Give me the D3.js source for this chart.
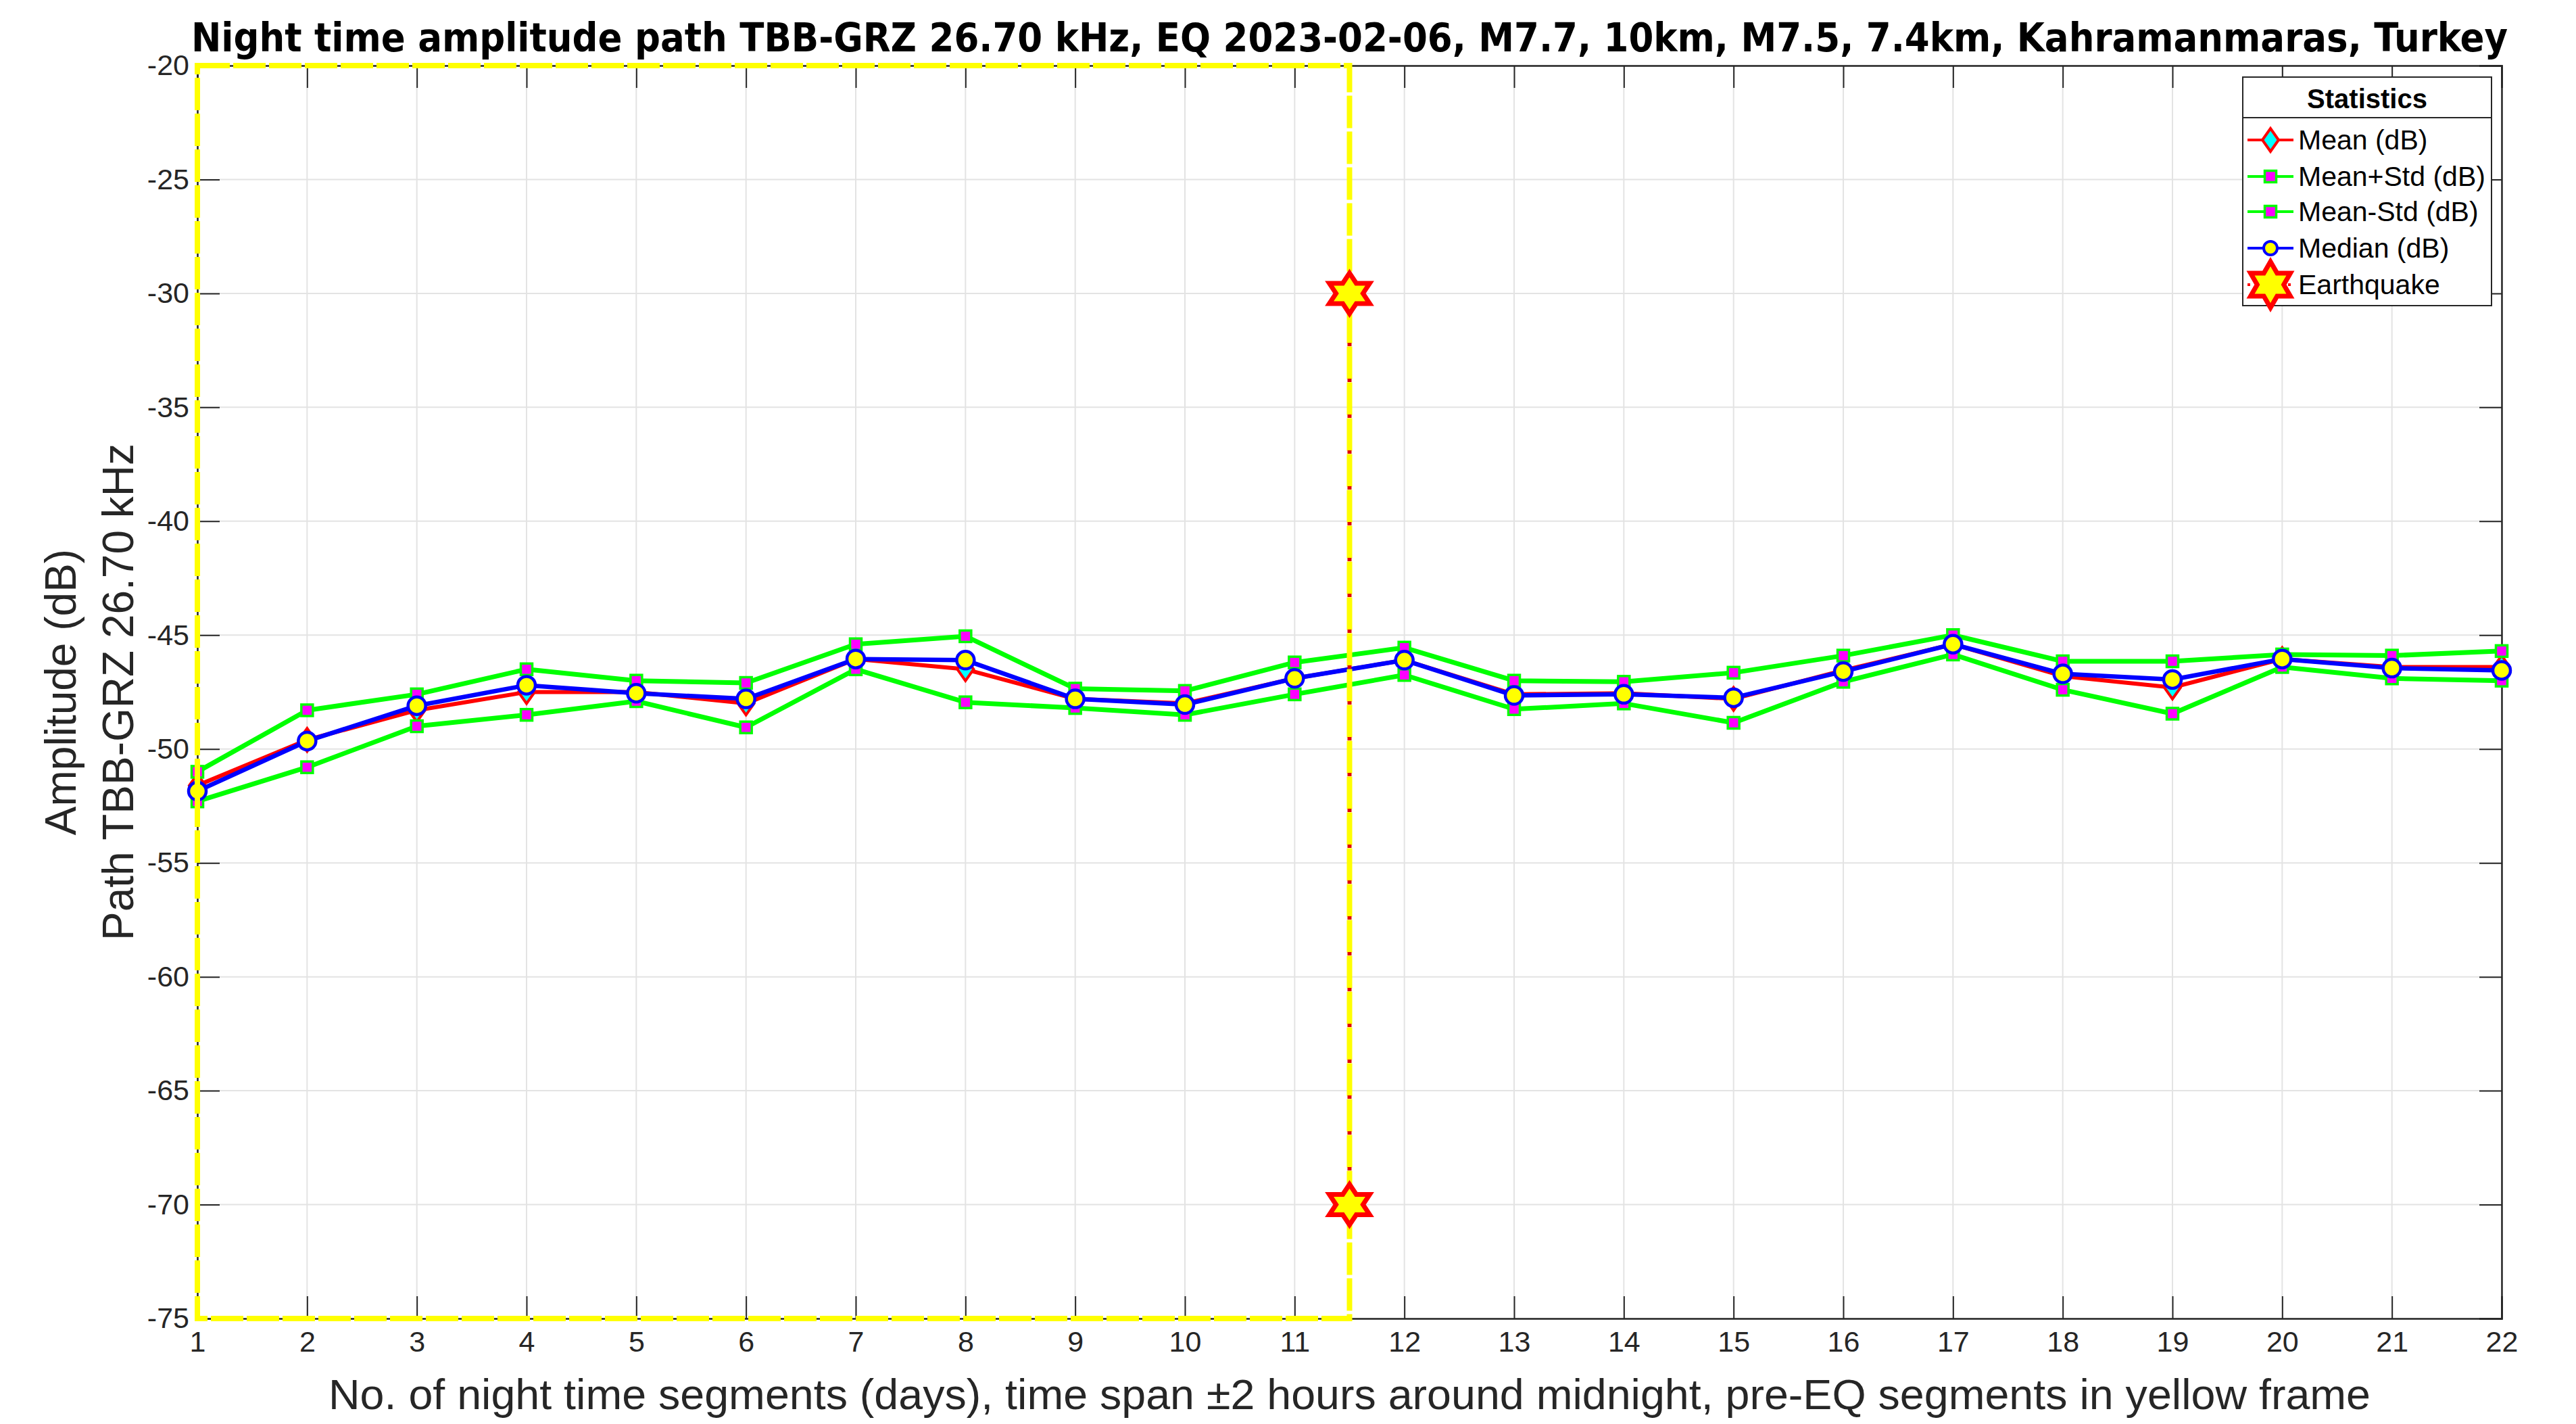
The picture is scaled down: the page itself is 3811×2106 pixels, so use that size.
<!DOCTYPE html>
<html>
<head>
<meta charset="utf-8">
<script src="https://cdn.jsdelivr.net/npm/d3@7/dist/d3.min.js"></script>
<style>
  body { margin: 0; background: #fff; }
  svg { display: block; font-family: "Liberation Sans", Arial, sans-serif; }
</style>
</head>
<body>
<svg width="3811" height="2106"></svg>
<script>
// Night time amplitude statistics, TBB-GRZ path

var days = [1, 2, 3, 4, 5, 6, 7, 8, 9, 10, 11, 12, 13, 14, 15, 16, 17, 18, 19, 20, 21, 22]
var meanVals   = [-51.6, -49.6, -48.3, -47.5, -47.5, -48.0, -46.05, -46.5, -47.8, -48.0, -46.9, -46.1, -47.6, -47.55, -47.8, -46.55, -45.4, -46.8, -47.3, -46.05, -46.4, -46.4]
var plusStd    = [-51.0, -48.3, -47.6, -46.5, -47.0, -47.1, -45.4, -45.05, -47.35, -47.45, -46.2, -45.55, -47.0, -47.05, -46.65, -45.9, -45.0, -46.15, -46.15, -45.85, -45.9, -45.7]
var minusStd   = [-52.3, -50.8, -49.0, -48.5, -47.9, -49.05, -46.5, -47.95, -48.2, -48.5, -47.6, -46.75, -48.25, -48.0, -48.85, -47.05, -45.85, -47.4, -48.45, -46.4, -46.9, -47.0]
var medianVals = [-51.85, -49.65, -48.1, -47.2, -47.55, -47.8, -46.05, -46.1, -47.8, -48.05, -46.9, -46.1, -47.65, -47.6, -47.75, -46.6, -45.4, -46.7, -46.95, -46.05, -46.45, -46.55]

var yTicks = [-75, -70, -65, -60, -55, -50, -45, -40, -35, -30, -25, -20]
var eqDay = 11.5
var eqAmp = [-30, -70]
var frameDays = [1, 11.5]

var titleText = 'Night time amplitude path TBB-GRZ 26.70 kHz, EQ 2023-02-06, M7.7, 10km, M7.5, 7.4km, Kahramanmaras, Turkey'
var xLabel = 'No. of night time segments (days), time span \u00b12 hours around midnight, pre-EQ segments in yellow frame'
var yLabel = ['Amplitude (dB)', 'Path TBB-GRZ 26.70 kHz']

var pLeft = 292, pRight = 3701, pTop = 97, pBottom = 1950
var axisColor = '#262626'

var svg = d3.select('svg')
svg.append('rect').attr('width', 3811).attr('height', 2106).attr('fill', '#fff')

var x = d3.scaleLinear().domain([1, 22]).range([pLeft, pRight])
var y = d3.scaleLinear().domain([-75, -20]).range([pBottom, pTop])
var fmt = function(d) { return String(d) }

// grid
var grid = svg.append('g').attr('class', 'grid')
grid.selectAll('.gx').data(days).enter().append('line')
	.attr('x1', function(d) { return x(d) }).attr('x2', function(d) { return x(d) })
	.attr('y1', pTop).attr('y2', pBottom)
	.attr('stroke', '#e3e3e3').attr('stroke-width', 2)
grid.selectAll('.gy').data(yTicks).enter().append('line')
	.attr('y1', function(d) { return y(d) }).attr('y2', function(d) { return y(d) })
	.attr('x1', pLeft).attr('x2', pRight)
	.attr('stroke', '#e3e3e3').attr('stroke-width', 2)

// axes, ticks pointing inward
var tick = 33
var xAxis = svg.append('g').attr('transform', 'translate(0,' + pBottom + ')')
	.call(d3.axisBottom(x).tickValues(days).tickFormat(fmt).tickSize(-tick).tickPadding(12))
var yAxis = svg.append('g').attr('transform', 'translate(' + pLeft + ',0)')
	.call(d3.axisLeft(y).tickValues(yTicks).tickFormat(fmt).tickSize(-tick).tickPadding(12))
svg.append('g').attr('transform', 'translate(0,' + pTop + ')')
	.call(d3.axisTop(x).tickValues(days).tickFormat('').tickSize(-tick))
svg.append('g').attr('transform', 'translate(' + pRight + ',0)')
	.call(d3.axisRight(y).tickValues(yTicks).tickFormat('').tickSize(-tick))

svg.selectAll('.domain').attr('stroke', axisColor).attr('stroke-width', 2.5)
svg.selectAll('.tick line').attr('stroke', axisColor).attr('stroke-width', 2)
svg.selectAll('.tick text').attr('fill', axisColor).style('font-size', '43px')
	.style('font-family', '"Liberation Sans", Arial, sans-serif')
xAxis.selectAll('.tick text').attr('dy', '0.85em')

// data series
var line = d3.line()
	.x(function(d, i) { return x(days[i]) })
	.y(function(d) { return y(d) })

function diamondPath(cx, cy, hw, hh) {
	return 'M' + cx + ',' + (cy - hh) + 'L' + (cx + hw) + ',' + cy + 'L' + cx + ',' + (cy + hh) + 'L' + (cx - hw) + ',' + cy + 'Z'
}

// mean
svg.append('path').datum(meanVals).attr('d', line)
	.attr('fill', 'none').attr('stroke', '#ff0000').attr('stroke-width', 6).attr('stroke-linejoin', 'round')
svg.append('g').selectAll('path').data(meanVals).enter().append('path')
	.attr('d', function(d, i) { return diamondPath(x(days[i]), y(d), 12, 17) })
	.attr('fill', '#00ffff').attr('stroke', '#ff0000').attr('stroke-width', 4)

// mean +/- std
;[plusStd, minusStd].forEach(function(series) {
	svg.append('path').datum(series).attr('d', line)
		.attr('fill', 'none').attr('stroke', '#00ff00').attr('stroke-width', 7).attr('stroke-linejoin', 'round')
	svg.append('g').selectAll('rect').data(series).enter().append('rect')
		.attr('x', function(d, i) { return x(days[i]) - 8.5 })
		.attr('y', function(d) { return y(d) - 8.5 })
		.attr('width', 17).attr('height', 17)
		.attr('fill', '#ff00ff').attr('stroke', '#00ff00').attr('stroke-width', 3.5)
})

// median
svg.append('path').datum(medianVals).attr('d', line)
	.attr('fill', 'none').attr('stroke', '#0000ff').attr('stroke-width', 6.5).attr('stroke-linejoin', 'round')
svg.append('g').selectAll('circle').data(medianVals).enter().append('circle')
	.attr('cx', function(d, i) { return x(days[i]) })
	.attr('cy', function(d) { return y(d) })
	.attr('r', 13)
	.attr('fill', '#ffff00').attr('stroke', '#0000ff').attr('stroke-width', 4.5)

// yellow frame around pre-EQ segments
svg.append('rect')
	.attr('x', x(frameDays[0])).attr('y', pTop)
	.attr('width', x(frameDays[1]) - x(frameDays[0])).attr('height', pBottom - pTop)
	.attr('fill', 'none').attr('stroke', '#ffff00').attr('stroke-width', 8)
	.attr('stroke-dasharray', '48,5')

// earthquake line (red dotted) between the two markers
svg.append('line')
	.attr('x1', x(eqDay)).attr('x2', x(eqDay))
	.attr('y1', y(eqAmp[0])).attr('y2', y(eqAmp[1]))
	.attr('stroke', '#e00000').attr('stroke-width', 6).attr('stroke-dasharray', '5,48')
	.attr('stroke-dashoffset', -20)

function hexagram(cx, cy, R, sx) {
	var r = R / Math.sqrt(3)
	var pts = []
	for (var k = 0; k < 12; k++) {
		var a = -Math.PI / 2 + k * Math.PI / 6
		var rr = k % 2 === 0 ? R : r
		pts.push([cx + sx * rr * Math.cos(a), cy + rr * Math.sin(a)])
	}
	return 'M' + pts.map(function(p) { return p.join(',') }).join('L') + 'Z'
}

svg.append('g').selectAll('path').data(eqAmp).enter().append('path')
	.attr('d', function(d) { return hexagram(x(eqDay), y(d), 30, 1.15) })
	.attr('fill', '#ffff00').attr('stroke', '#ff0000').attr('stroke-width', 7).attr('stroke-linejoin', 'miter')

// title: narrow bold face, shrink to fit if the narrow face is missing
var title = svg.append('text')
	.attr('x', (pLeft + pRight) / 2).attr('y', 76)
	.attr('text-anchor', 'middle')
	.style('font-family', '"Liberation Sans Narrow", "DejaVu Sans Condensed", "Liberation Sans", sans-serif')
	.style('font-size', '66px').style('font-weight', 'bold')
	.text(titleText)
var tw = title.node().getComputedTextLength()
if (tw > 3428) title.style('font-size', (66 * 3428 / tw) + 'px')

svg.append('text')
	.attr('x', (pLeft + pRight) / 2).attr('y', 2084)
	.attr('text-anchor', 'middle').attr('fill', axisColor)
	.style('font-size', '63px')
	.attr('textLength', 3021).attr('lengthAdjust', 'spacingAndGlyphs')
	.text(xLabel)

yLabel.forEach(function(t, i) {
	var cx = i === 0 ? 112 : 197
	svg.append('text')
		.attr('transform', 'translate(' + cx + ',' + ((pTop + pBottom) / 2) + ') rotate(-90)')
		.attr('text-anchor', 'middle').attr('fill', axisColor)
		.style('font-size', '64px')
		.text(t)
})

// legend
var legendNames = ['Mean (dB)', 'Mean+Std (dB)', 'Mean-Std (dB)', 'Median (dB)', 'Earthquake']
var lg = svg.append('g')
lg.append('rect').attr('x', 3318).attr('y', 114).attr('width', 368).attr('height', 338)
	.attr('fill', '#fff').attr('stroke', axisColor).attr('stroke-width', 2)
lg.append('line').attr('x1', 3318).attr('x2', 3686).attr('y1', 174).attr('y2', 174)
	.attr('stroke', axisColor).attr('stroke-width', 2)
lg.append('text').attr('x', 3502).attr('y', 160).attr('text-anchor', 'middle')
	.style('font-size', '40px').style('font-weight', 'bold').text('Statistics')

var rowY = [207, 261, 313, 367, 421]
var sx0 = 3325, sx1 = 3393, mx = 3359
legendNames.forEach(function(name, i) {
	var ry = rowY[i]
	lg.append('text').attr('x', 3400).attr('y', ry).attr('dy', '0.35em')
		.style('font-size', '41px').text(name)
	if (i === 0) {
		lg.append('line').attr('x1', sx0).attr('x2', sx1).attr('y1', ry).attr('y2', ry)
			.attr('stroke', '#ff0000').attr('stroke-width', 4)
		lg.append('path').attr('d', diamondPath(mx, ry, 12, 17))
			.attr('fill', '#00ffff').attr('stroke', '#ff0000').attr('stroke-width', 4)
	} else if (i === 1 || i === 2) {
		lg.append('line').attr('x1', sx0).attr('x2', sx1).attr('y1', ry).attr('y2', ry)
			.attr('stroke', '#00ff00').attr('stroke-width', 4)
		lg.append('rect').attr('x', mx - 8.5).attr('y', ry - 8.5).attr('width', 17).attr('height', 17)
			.attr('fill', '#ff00ff').attr('stroke', '#00ff00').attr('stroke-width', 3.5)
	} else if (i === 3) {
		lg.append('line').attr('x1', sx0).attr('x2', sx1).attr('y1', ry).attr('y2', ry)
			.attr('stroke', '#0000ff').attr('stroke-width', 4)
		lg.append('circle').attr('cx', mx).attr('cy', ry).attr('r', 10)
			.attr('fill', '#ffff00').attr('stroke', '#0000ff').attr('stroke-width', 4)
	} else {
		lg.append('line').attr('x1', sx0).attr('x2', sx1).attr('y1', ry).attr('y2', ry)
			.attr('stroke', '#ff0000').attr('stroke-width', 4).attr('stroke-dasharray', '4,8')
		lg.append('path').attr('d', hexagram(mx, ry, 34, 1.0))
			.attr('fill', '#ffff00').attr('stroke', '#ff0000').attr('stroke-width', 7)
	}
})
</script>
</body>
</html>
